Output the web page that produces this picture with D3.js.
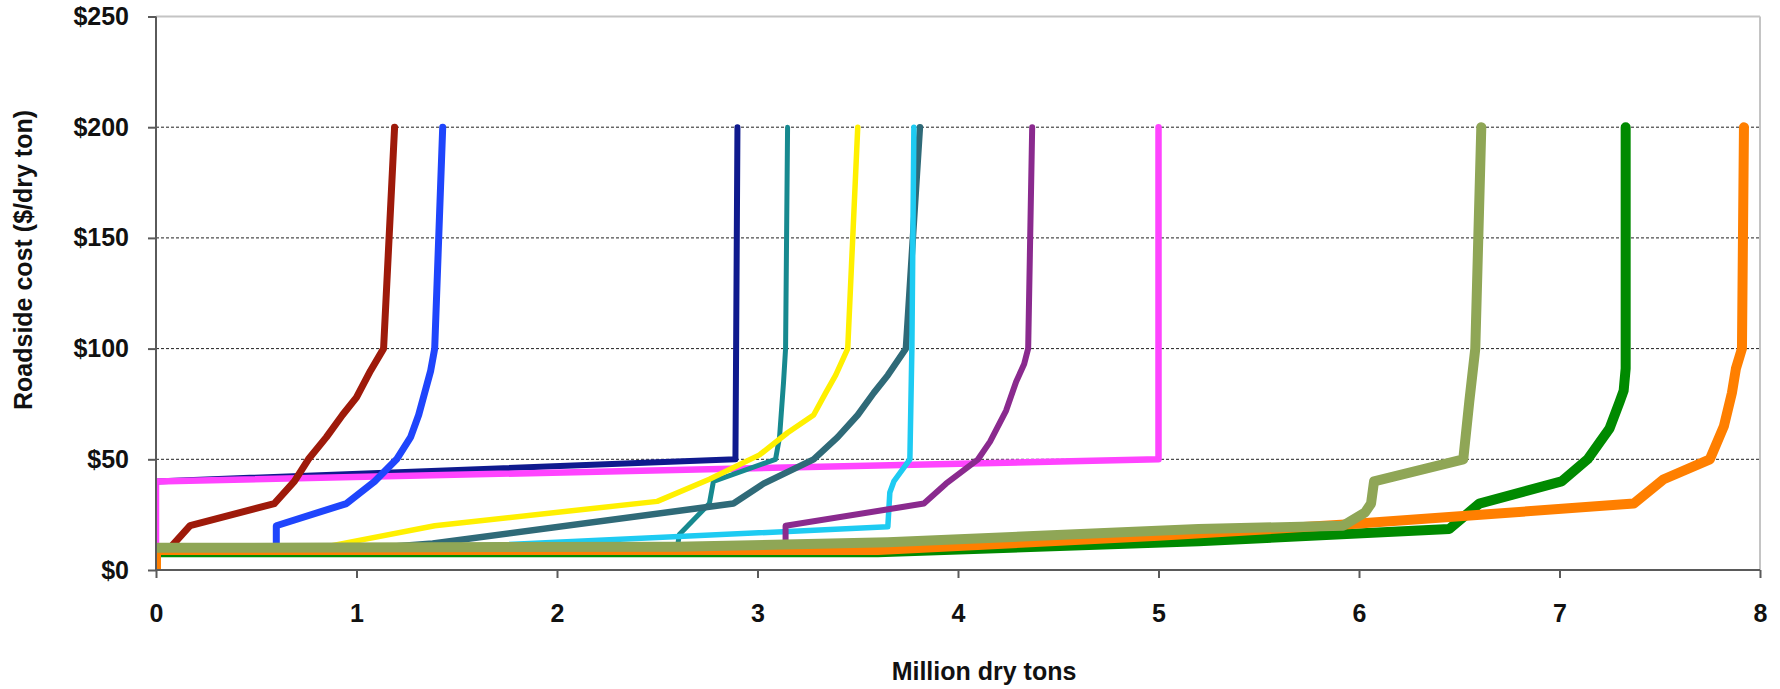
<!DOCTYPE html>
<html>
<head>
<meta charset="utf-8">
<script src="https://d3js.org/d3.v7.min.js"></script>
<style>
  html, body { margin: 0; padding: 0; background: #fff; }
  svg { display: block; }
  text { font-family: "Liberation Sans", Arial, Helvetica, sans-serif; font-weight: bold; fill: #111; }
</style>
</head>
<body>
<svg id="chart" width="1780" height="689"></svg>
<script>
// ---- Data (million dry tons, $/dry ton) ----
const navy    = [[0,10],[0,40],[2.89,50],[2.9,200]];
const darkRed = [[0.07,10],[0.17,20],[0.59,30],[0.69,40],[0.76,50],[0.85,60],[0.93,70],[1.0,78],[1.07,90],[1.135,100],[1.19,200]];
const blue    = [[0.6,10],[0.6,20],[0.95,30],[1.09,40],[1.2,50],[1.27,60],[1.31,70],[1.34,80],[1.37,90],[1.39,100],[1.43,200]];
const teal    = [[2.6,10],[2.61,16],[2.76,30],[2.78,40],[3.09,50],[3.11,60],[3.13,85],[3.14,100],[3.15,200]];
const yellow  = [[0,10],[0.82,10],[1.39,20],[2.5,31],[2.76,41],[3.01,52],[3.15,62],[3.28,70],[3.34,80],[3.39,88],[3.45,100],[3.5,200]];
const slate   = [[0,10],[1.1,10],[1.38,12],[2.88,30],[3.03,39],[3.28,50],[3.4,60],[3.5,70],[3.58,80],[3.65,88],[3.74,100],[3.81,200]];
const cyan    = [[0,10],[1.4,10],[3.65,19.5],[3.66,35],[3.68,40],[3.76,50],[3.77,100],[3.78,200]];
const purple  = [[3.14,10],[3.14,20],[3.83,30],[3.94,39],[4.1,50],[4.16,58],[4.24,72],[4.29,85],[4.33,93],[4.35,100],[4.37,200]];
const magenta = [[0,10],[0,40],[5.0,50],[5.0,200]];
const green   = [[0,8],[3.6,8],[5.2,13],[6.45,18.5],[6.6,30],[7.01,40],[7.14,50],[7.25,64],[7.3,76],[7.32,81],[7.33,91],[7.33,200]];
const orange  = [[0,0],[0,9],[3.6,9],[5.0,15.5],[5.93,20.5],[7.37,30],[7.52,41],[7.75,50],[7.82,65],[7.86,80],[7.88,91],[7.91,100],[7.92,200]];
const olive   = [[0,10],[2.6,10.5],[3.65,12.5],[5.2,18.5],[5.92,20],[6.03,26],[6.06,30],[6.075,40],[6.52,50],[6.55,76],[6.58,100],[6.61,200]];

const xTicks = [0,1,2,3,4,5,6,7,8];
const yTicks = [0,50,100,150,200,250];
const gridValues = [50,100,150,200];
const xTitle = "Million dry tons";
const yTitle = "Roadside cost ($/dry ton)";

// series in drawing order (bottom -> top)
const seriesData = [navy, magenta, darkRed, blue, teal, yellow, slate, cyan, purple, green, orange, olive];
const seriesColors = ["#0f1a8e","#ff44ff","#9e1a0a","#1f45fc","#17898f","#fff000","#2f6a78","#1ecbf2","#8a2a8e","#008a00","#ff7f00","#8fa656"];
const seriesWidths = [6,6.5,7,7,5,5.5,6.5,5.5,6,10,10,10];

// ---- Layout ----
const svg = d3.select("#chart");
const x = d3.scaleLinear().domain([0,8]).range([156,1760]);
const y = d3.scaleLinear().domain([0,250]).range([570,16.5]);

svg.append("defs").append("clipPath").attr("id","plotclip")
  .append("rect").attr("x",156).attr("y",0).attr("width",1760-156).attr("height",570);

// plot border (top/right) light gray
svg.append("line").attr("x1",x(0)).attr("x2",x(8)).attr("y1",y(250)).attr("y2",y(250))
  .attr("stroke","#c4c4c4").attr("stroke-width",2);
svg.append("line").attr("x1",x(8)).attr("x2",x(8)).attr("y1",y(250)).attr("y2",y(0))
  .attr("stroke","#c4c4c4").attr("stroke-width",2);

// dashed gridlines
svg.append("g").selectAll("line").data(gridValues).join("line")
  .attr("x1",x(0)).attr("x2",x(8))
  .attr("y1",d=>y(d)).attr("y2",d=>y(d))
  .attr("stroke","#222").attr("stroke-width",1).attr("stroke-dasharray","3,2");

// series lines
const line = d3.line().x(d=>x(d[0])).y(d=>y(d[1]));
const gLines = svg.append("g").attr("clip-path","url(#plotclip)");
seriesData.forEach((s,i)=>{
  gLines.append("path").datum(s).attr("d",line)
    .attr("fill","none").attr("stroke",seriesColors[i]).attr("stroke-width",seriesWidths[i])
    .attr("stroke-linejoin","round").attr("stroke-linecap","round");
});

// axes
const yAxis = d3.axisLeft(y).tickValues(yTicks).tickFormat(d=>"$"+d).tickSize(8).tickPadding(19);
const gy = svg.append("g").attr("transform",`translate(${x(0)},0)`).call(yAxis);
const xAxis = d3.axisBottom(x).tickValues(xTicks).tickFormat(d3.format("d")).tickSize(8).tickPadding(26);
const gx = svg.append("g").attr("transform",`translate(0,${y(0)})`).call(xAxis);
[gx,gy].forEach(g=>{
  g.select(".domain").attr("stroke","#5a5a5a").attr("stroke-width",2);
  g.selectAll(".tick line").attr("stroke","#5a5a5a").attr("stroke-width",2);
  g.selectAll(".tick text").attr("font-size",25).attr("font-family","'Liberation Sans', Arial, sans-serif")
    .attr("font-weight","bold").attr("fill","#111");
});
gx.select(".domain").attr("d",`M${x(0)},0H${x(8)}`);
gy.select(".domain").attr("d",`M0,${y(0)}V${y(250)}`);

// titles
svg.append("text").attr("x",984).attr("y",680).attr("text-anchor","middle")
  .attr("font-size",25).text(xTitle);
svg.append("text").attr("transform","translate(32,260) rotate(-90)").attr("text-anchor","middle")
  .attr("font-size",25).text(yTitle);
</script>
</body>
</html>
